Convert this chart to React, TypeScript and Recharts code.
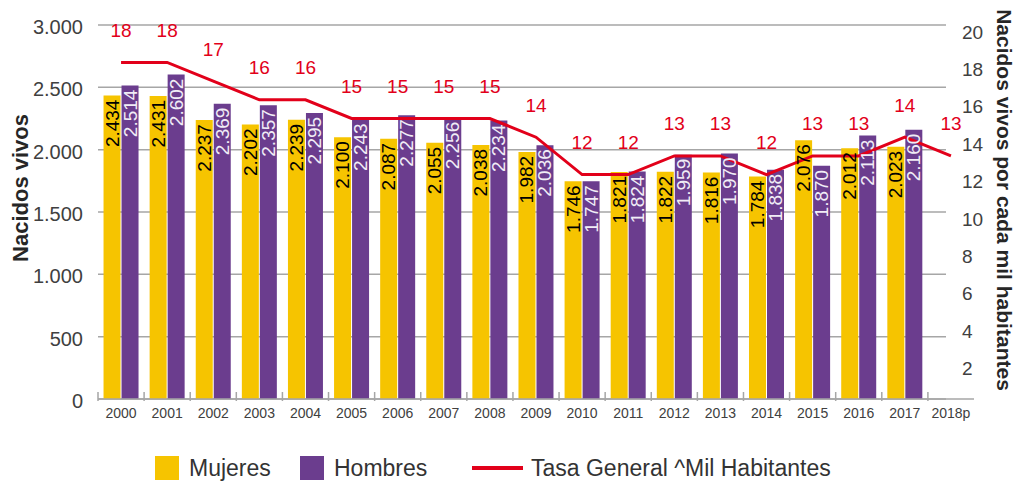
import {
  Bar,
  CartesianGrid,
  ComposedChart,
  LabelList,
  Legend,
  Line,
  XAxis,
  YAxis,
} from 'recharts';

const years = [
  '2000', '2001', '2002', '2003', '2004', '2005', '2006', '2007', '2008', '2009',
  '2010', '2011', '2012', '2013', '2014', '2015', '2016', '2017', '2018p',
];

const mujeres = [
  2434, 2431, 2237, 2202, 2239, 2100, 2087, 2055, 2038, 1982,
  1746, 1821, 1822, 1816, 1784, 2076, 2012, 2023, null,
];

const hombres = [
  2514, 2602, 2369, 2357, 2295, 2243, 2277, 2256, 2234, 2036,
  1747, 1824, 1959, 1970, 1838, 1870, 2113, 2160, null,
];

const tasa = [18, 18, 17, 16, 16, 15, 15, 15, 15, 14, 12, 12, 13, 13, 12, 13, 13, 14, 13];

const leftTicks = [0, 500, 1000, 1500, 2000, 2500, 3000];
const rightTicks = [2, 4, 6, 8, 10, 12, 14, 16, 18, 20];

const seriesNames = ['Mujeres', 'Hombres', 'Tasa General ^Mil Habitantes'];

const data = years.map((year, i) => ({
  year,
  mujeres: mujeres[i],
  hombres: hombres[i],
  tasa: tasa[i],
}));

const FONT = '"Liberation Sans", Arial, sans-serif';
const YELLOW = '#f6c400';
const PURPLE = '#6b3d8e';
const RED = '#e2001a';
const GRID = '#a6a6a6';

// spanish thousands separator (the es locale skips it for 4 digits)
const fmt = (v: number) => String(v).replace(/\B(?=(\d{3})+(?!\d))/g, '.');

function BarValueLabel(props: any) {
  const { x, y, width, value, color } = props;
  if (value == null) return null;
  const cx = Number(x) + Number(width) / 2;
  const cy = Number(y) + 4;
  return (
    <text
      x={cx}
      y={cy}
      transform={`rotate(-90 ${cx} ${cy})`}
      textAnchor="end"
      dominantBaseline="central"
      fill={color}
      fontSize={19}
      fontFamily={FONT}
    >
      {fmt(Number(value))}
    </text>
  );
}

function RateLabel(props: any) {
  const { x, y, value } = props;
  return (
    <text
      x={x}
      y={Number(y) - 32}
      textAnchor="middle"
      dominantBaseline="central"
      fill={RED}
      fontSize={19}
      fontFamily={FONT}
    >
      {value}
    </text>
  );
}

function YearTick(props: any) {
  const { x, y, payload } = props;
  const half = payload?.offset ?? 23;
  return (
    <g>
      <line x1={x - half} x2={x - half} y1={y} y2={y - 9} stroke={GRID} strokeWidth={1.5} />
      <text
        x={x}
        y={y + 12}
        textAnchor="middle"
        dominantBaseline="central"
        fill="#404040"
        fontSize={14}
        fontFamily={FONT}
      >
        {payload.value}
      </text>
    </g>
  );
}

function RightTick(props: any) {
  const { x, y, payload } = props;
  return (
    <text
      x={x - 12}
      y={y + 7}
      textAnchor="start"
      dominantBaseline="central"
      fill="#404040"
      fontSize={19}
      fontFamily={FONT}
    >
      {payload.value}
    </text>
  );
}

function GridLine(props: any) {
  const { x1, x2, y1, y2, index } = props;
  return (
    <line
      key={`grid-${index}-${y1}`}
      x1={x1}
      x2={x2 - 28}
      y1={y1}
      y2={y2}
      stroke={GRID}
      strokeWidth={1.5}
    />
  );
}

const legendLeft = [155, 300, 472];

function LegendContent(props: any) {
  const payload = props.payload || [];
  const items = seriesNames
    .map((name) => payload.find((p: any) => p.value === name))
    .filter(Boolean);
  return (
    <div style={{ position: 'relative', height: 30, fontFamily: FONT, fontSize: 23, color: '#333' }}>
      {items.map((item: any, i: number) => (
        <div
          key={item.value}
          style={{
            position: 'absolute',
            left: legendLeft[i],
            top: 5,
            height: 24,
            display: 'flex',
            alignItems: 'center',
            whiteSpace: 'nowrap',
          }}
        >
          {item.type === 'line' ? (
            <span style={{ width: 51, height: 4, background: item.color, marginRight: 8 }} />
          ) : (
            <span style={{ width: 24, height: 24, background: item.color, marginRight: 10 }} />
          )}
          {item.value}
        </div>
      ))}
    </div>
  );
}

function App() {
  return (
    <div style={{ position: 'absolute', left: 0, top: 0 }}>
      <ComposedChart
        width={1015}
        height={481}
        data={data}
        margin={{ top: 25, right: 0, left: 0, bottom: 0 }}
        barCategoryGap="12%"
        barGap={1}
      >
        <CartesianGrid vertical={false} horizontal={GridLine} yAxisId="left" />
        <XAxis
          dataKey="year"
          interval={0}
          height={52}
          tickSize={0}
          tickLine={false}
          axisLine={{ stroke: GRID, strokeWidth: 1.5 }}
          tick={YearTick}
        />
        <YAxis
          yAxisId="left"
          domain={[0, 3000]}
          ticks={leftTicks}
          width={98}
          axisLine={false}
          tickLine={false}
          tickSize={0}
          tickMargin={15}
          tickFormatter={fmt}
          tick={{ fill: '#404040', fontSize: 20, fontFamily: FONT, dy: 2 }}
          label={{
            content: ({ viewBox }: any) => {
              const cx = viewBox.x + 20;
              const cy = viewBox.y + viewBox.height / 2 - 24;
              return (
                <text
                  x={cx}
                  y={cy}
                  transform={`rotate(-90 ${cx} ${cy})`}
                  textAnchor="middle"
                  dominantBaseline="central"
                  fill="#262626"
                  fontSize={22}
                  fontWeight="bold"
                  fontFamily={FONT}
                >
                  Nacidos vivos
                </text>
              );
            },
          }}
        />
        <YAxis
          yAxisId="right"
          orientation="right"
          domain={[0, 20]}
          ticks={rightTicks}
          width={41}
          axisLine={false}
          tickLine={false}
          tickSize={0}
          tickMargin={0}
          tick={RightTick}
          label={{
            content: ({ viewBox }: any) => {
              const cx = viewBox.x + viewBox.width - 11;
              const cy = viewBox.y + viewBox.height / 2 - 12;
              return (
                <text
                  x={cx}
                  y={cy}
                  transform={`rotate(90 ${cx} ${cy})`}
                  textAnchor="middle"
                  dominantBaseline="central"
                  fill="#262626"
                  fontSize={21}
                  fontWeight="bold"
                  fontFamily={FONT}
                >
                  Nacidos vivos por cada mil habitantes
                </text>
              );
            },
          }}
        />
        <Legend
          verticalAlign="bottom"
          content={LegendContent}
          wrapperStyle={{ left: 0, width: 1015, height: 30 }}
        />
        <Bar yAxisId="left" dataKey="mujeres" name="Mujeres" fill={YELLOW} isAnimationActive={false}>
          <LabelList dataKey="mujeres" content={(p: any) => <BarValueLabel {...p} color="#000" />} />
        </Bar>
        <Bar yAxisId="left" dataKey="hombres" name="Hombres" fill={PURPLE} isAnimationActive={false}>
          <LabelList dataKey="hombres" content={(p: any) => <BarValueLabel {...p} color="#f1edf6" />} />
        </Bar>
        <Line
          yAxisId="right"
          type="linear"
          dataKey="tasa"
          name="Tasa General ^Mil Habitantes"
          stroke={RED}
          strokeWidth={3}
          dot={false}
          legendType="line"
          isAnimationActive={false}
        >
          <LabelList dataKey="tasa" content={RateLabel} />
        </Line>
      </ComposedChart>
    </div>
  );
}

export default App;
